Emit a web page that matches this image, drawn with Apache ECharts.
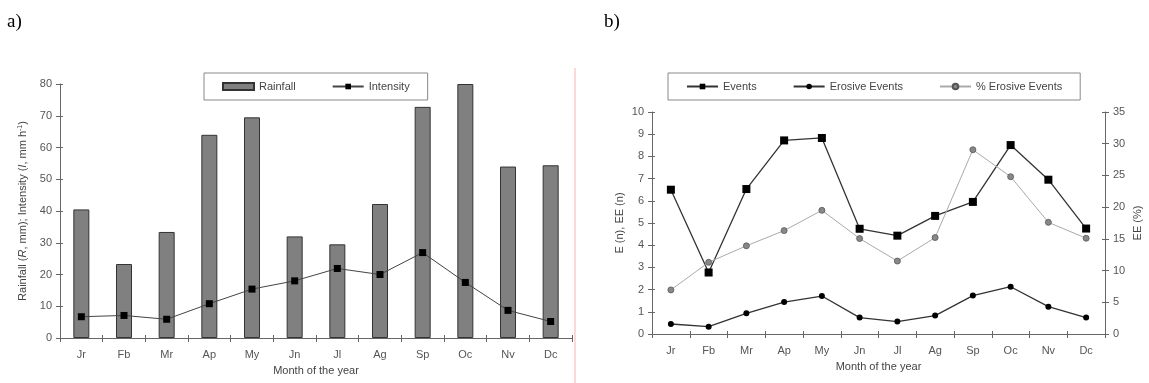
<!DOCTYPE html>
<html>
<head>
<meta charset="utf-8">
<script src="https://cdn.jsdelivr.net/npm/echarts@6/dist/echarts.min.js"></script>
<style>
  html, body { margin: 0; padding: 0; background: #fff; }
  #main { width: 1149px; height: 383px; }
</style>
</head>
<body>
<div id="main"></div>
<script>
var months = ['Jr', 'Fb', 'Mr', 'Ap', 'My', 'Jn', 'Jl', 'Ag', 'Sp', 'Oc', 'Nv', 'Dc'];

// panel a
var rainfall = [40.5, 23.3, 33.4, 64, 69.5, 32, 29.5, 42.2, 72.8, 80, 54, 54.4];
var intensity = [6.7, 7.1, 5.9, 10.8, 15.4, 18, 21.9, 20, 26.9, 17.5, 8.7, 5.2];

// panel b
var events = [6.5, 2.77, 6.53, 8.72, 8.83, 4.74, 4.43, 5.32, 5.95, 8.51, 6.95, 4.75];
var erosiveEvents = [0.45, 0.33, 0.93, 1.44, 1.71, 0.74, 0.56, 0.83, 1.73, 2.13, 1.23, 0.74];
var pctErosive = [6.95, 11.3, 13.9, 16.3, 19.5, 15.05, 11.5, 15.2, 29.05, 24.8, 17.6, 15.1];

var font = 'Liberation Sans';
var axisCol = '#666';
var txtCol = '#444';

function catAxis(grid, inner) {
  var ax = {
    type: 'category', gridIndex: grid, data: months,
    boundaryGap: true, position: 'bottom',
    name: 'Month of the year', nameLocation: 'middle', nameGap: 27,
    nameTextStyle: { fontFamily: font, fontSize: 11, color: txtCol },
    axisLine: { lineStyle: { color: axisCol } },
    axisTick: { show: true, length: 4, lineStyle: { color: axisCol } },
    axisLabel: { fontFamily: font, fontSize: 11, color: '#555', margin: 11 }
  };
  // second copy only adds the inner half of the crossing ticks
  if (inner) {
    ax.name = '';
    ax.axisLine = { show: false };
    ax.axisLabel = { show: false };
    ax.axisTick = { show: true, inside: true, length: 3, lineStyle: { color: axisCol } };
  }
  return ax;
}

function valAxis(grid, max, interval, pos, name, gap, inner) {
  var ax = {
    type: 'value', gridIndex: grid, min: 0, max: max, interval: interval,
    position: pos,
    name: name, nameLocation: 'middle', nameGap: gap,
    nameTextStyle: {
      fontFamily: font, fontSize: 11, color: txtCol,
      rich: {
        n: { fontFamily: font, fontSize: 11, color: txtCol },
        i: { fontFamily: font, fontSize: 11, color: txtCol, fontStyle: 'italic' },
        s: { fontFamily: font, fontSize: 7, color: txtCol, verticalAlign: 'top', lineHeight: 8 }
      }
    },
    splitLine: { show: false },
    axisLine: { show: true, lineStyle: { color: axisCol } },
    axisTick: { show: true, length: 4, lineStyle: { color: axisCol } },
    axisLabel: { fontFamily: font, fontSize: 11, color: '#555', margin: 8 }
  };
  if (inner) {
    ax.name = '';
    ax.axisLine = { show: false };
    ax.axisLabel = { show: false };
    ax.axisTick = { show: true, inside: true, length: 3, lineStyle: { color: axisCol } };
  }
  return ax;
}

var chart = echarts.init(document.getElementById('main'));

chart.setOption({
  animation: false,
  backgroundColor: '#fff',
  title: [
    { text: 'a)', left: 7, top: 13, padding: 0, textStyle: { fontFamily: 'Liberation Serif', fontSize: 19, fontWeight: 'normal', color: '#000' } },
    { text: 'b)', left: 604, top: 13, padding: 0, textStyle: { fontFamily: 'Liberation Serif', fontSize: 19, fontWeight: 'normal', color: '#000' } }
  ],
  legend: [
    {
      data: [{ name: 'Rainfall', icon: 'rect' }, 'Intensity'],
      left: 204, top: 73, width: 222,
      padding: [8, 18], itemGap: 36,
      itemWidth: 31, itemHeight: 7,
      borderColor: '#888', borderWidth: 1,
      textStyle: { fontFamily: font, fontSize: 11, color: txtCol }
    },
    {
      data: ['Events', 'Erosive Events', '% Erosive Events'],
      left: 668, top: 73, width: 419,
      padding: [8, 18], itemGap: 36,
      itemWidth: 31, itemHeight: 7,
      borderColor: '#888', borderWidth: 1,
      textStyle: { fontFamily: font, fontSize: 11, color: txtCol }
    }
  ],
  grid: [
    { left: 60, right: 577, top: 84, bottom: 45 },
    { left: 652, right: 44, top: 112, bottom: 49 }
  ],
  xAxis: [catAxis(0), catAxis(1), catAxis(0, true), catAxis(1, true)],
  yAxis: [
    valAxis(0, 80, 10, 'left', '{n|Rainfall (}{i|R}{n|, mm); Intensity (}{i|I}{n|, mm h}{s|-1}{n|)}', 32),
    valAxis(1, 10, 1, 'left', 'E (n), EE (n)', 27),
    valAxis(1, 35, 5, 'right', 'EE (%)', 27),
    valAxis(0, 80, 10, 'left', '', 0, true),
    valAxis(1, 10, 1, 'left', '', 0, true),
    valAxis(1, 35, 5, 'right', '', 0, true)
  ],
  graphic: [
    { type: 'line', shape: { x1: 575, y1: 68, x2: 575, y2: 383 }, style: { stroke: '#ffb0b0', lineWidth: 1 } }
  ],
  series: [
    {
      name: 'Rainfall', type: 'bar', xAxisIndex: 0, yAxisIndex: 0,
      data: rainfall, barWidth: 16,
      itemStyle: { color: '#808080', borderColor: '#333', borderWidth: 1 }
    },
    {
      name: 'Intensity', type: 'line', xAxisIndex: 0, yAxisIndex: 0,
      data: intensity, symbol: 'rect', symbolSize: 7,
      lineStyle: { color: '#444', width: 1 },
      itemStyle: { color: '#000' }
    },
    {
      name: 'Events', type: 'line', xAxisIndex: 1, yAxisIndex: 1,
      data: events, symbol: 'rect', symbolSize: 8,
      lineStyle: { color: '#333', width: 1.3 },
      itemStyle: { color: '#000' }
    },
    {
      name: 'Erosive Events', type: 'line', xAxisIndex: 1, yAxisIndex: 1,
      data: erosiveEvents, symbol: 'circle', symbolSize: 6,
      lineStyle: { color: '#333', width: 1.3 },
      itemStyle: { color: '#000' }
    },
    {
      name: '% Erosive Events', type: 'line', xAxisIndex: 1, yAxisIndex: 2,
      data: pctErosive, symbol: 'circle', symbolSize: 6,
      lineStyle: { color: '#aaa', width: 1 },
      itemStyle: { color: '#888', borderColor: '#555', borderWidth: 0.8 }
    }
  ]
});
</script>
</body>
</html>
